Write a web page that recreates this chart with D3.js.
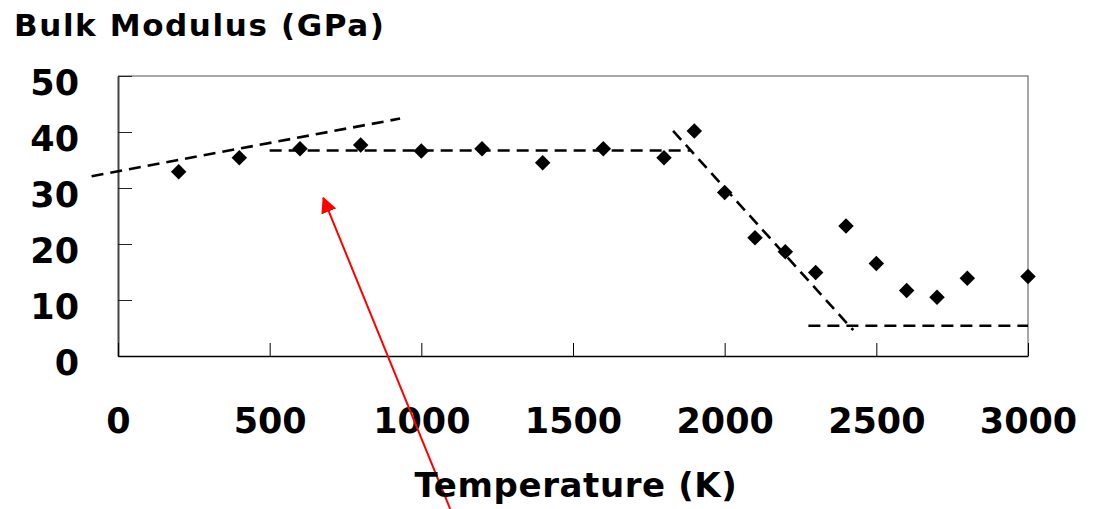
<!DOCTYPE html>
<html>
<head>
<meta charset="utf-8">
<script src="https://cdn.jsdelivr.net/npm/d3@7"></script>
<style>
  body { margin: 0; background: #fff; }
  svg { display: block; }
  text { font-family: "DejaVu Sans", sans-serif; font-weight: bold; fill: #000; }
</style>
</head>
<body>
<svg id="chart"></svg>
<script>
// measured bulk modulus vs temperature
var temps   = [200, 400, 600, 800, 1000, 1200, 1400, 1600, 1800, 1900, 2000, 2100, 2200, 2300, 2400, 2500, 2600, 2700, 2800, 3000];
var modulus = [32.9, 35.4, 37.0, 37.7, 36.6, 37.0, 34.5, 37.0, 35.4, 40.2, 29.2, 21.1, 18.6, 14.9, 23.2, 16.5, 11.7, 10.5, 13.9, 14.2];

// hand-drawn trend lines (start / end in data units)
var trendX = [[-87, 930], [500, 1890], [1830, 2424], [2276, 3000]];
var trendY = [[32.1, 42.4], [36.7, 36.7], [40.2, 4.6], [5.4, 5.4]];

// red annotation arrow: tail -> tip
var arrowX = [1095, 677];
var arrowY = [-27.3, 28.2];

var xTicks = [0, 500, 1000, 1500, 2000, 2500, 3000];
var yTicks = [0, 10, 20, 30, 40, 50];

var W = 1094, H = 509,
	margin = { left: 118, top: 76, right: 66, bottom: 153 },
	w = W - margin.left - margin.right,
	h = H - margin.top - margin.bottom;

var svg = d3.select('#chart')
		.attr('width', W)
		.attr('height', H);

var x = d3.scaleLinear().domain([0, 3000]).range([0, w]),
	y = d3.scaleLinear().domain([0, 50]).range([h, 0]);

var g = svg.append('g')
		.attr('transform', 'translate(' + margin.left + ',' + margin.top + ')');

// frame: top and right in grey
g.append('path')
	.attr('d', 'M0,' + y(50) + 'H' + x(3000) + 'V' + y(0))
	.attr('fill', 'none')
	.attr('stroke', '#8a8a8a')
	.attr('stroke-width', 1.5);

// y axis
var yAxis = g.append('g')
		.call(d3.axisLeft(y).tickValues(yTicks).tickSizeInner(-14).tickSizeOuter(0).tickPadding(39));
yAxis.select('.domain').attr('stroke', '#444').attr('stroke-width', 2);
yAxis.selectAll('.tick line').attr('stroke', '#222').attr('stroke-width', 1);
yAxis.selectAll('.tick text')
	.attr('dy', '0.52em')
	.style('font-size', '35px')
	.style('font-family', '"DejaVu Sans", sans-serif')
	.style('font-weight', 'bold');

// x axis
var xAxis = g.append('g')
		.attr('transform', 'translate(0,' + h + ')')
		.call(d3.axisBottom(x).tickValues(xTicks).tickFormat(d3.format('d')).tickSizeInner(-13).tickSizeOuter(0));
xAxis.select('.domain').attr('stroke', '#000').attr('stroke-width', 1.5);
xAxis.selectAll('.tick line').attr('stroke', '#000').attr('stroke-width', 1);
xAxis.selectAll('.tick text')
	.attr('y', 77)
	.attr('dy', 0)
	.style('font-size', '35px')
	.style('font-family', '"DejaVu Sans", sans-serif')
	.style('font-weight', 'bold');

// dashed trend lines
var line = d3.line()
		.x(function (d) { return x(d[0]); })
		.y(function (d) { return y(d[1]); });

g.selectAll('path.trend')
	.data(trendX.map(function (xs, i) {
		return [[xs[0], trendY[i][0]], [xs[1], trendY[i][1]]];
	}))
	.enter()
	.append('path')
	.attr('class', 'trend')
	.attr('d', line)
	.attr('fill', 'none')
	.attr('stroke', '#000')
	.attr('stroke-width', 2.6)
	.attr('stroke-dasharray', '12,7');

// diamond markers
g.selectAll('path.pt')
	.data(temps)
	.enter()
	.append('path')
	.attr('class', 'pt')
	.attr('d', d3.symbol().type(d3.symbolSquare).size(120))
	.attr('transform', function (d, i) {
		return 'translate(' + x(d) + ',' + y(modulus[i]) + ') rotate(45)';
	})
	.attr('fill', '#000');

// titles
svg.append('text')
	.attr('x', 14)
	.attr('y', 36)
	.style('font-size', '31px')
	.style('letter-spacing', '1.6px')
	.text('Bulk Modulus (GPa)');

svg.append('text')
	.attr('x', 576)
	.attr('y', 497)
	.attr('text-anchor', 'middle')
	.style('font-size', '34px')
	.style('letter-spacing', '0.6px')
	.text('Temperature (K)');

// red arrow
svg.append('defs').append('marker')
	.attr('id', 'head')
	.attr('viewBox', '0 0 10 10')
	.attr('refX', 9)
	.attr('refY', 5)
	.attr('markerWidth', 8)
	.attr('markerHeight', 8)
	.attr('markerUnits', 'strokeWidth')
	.attr('orient', 'auto')
	.append('path')
	.attr('d', 'M0,0L10,5L0,10Z')
	.attr('fill', '#ff0000');

g.append('path')
	.attr('d', line([[arrowX[0], arrowY[0]], [arrowX[1], arrowY[1]]]))
	.attr('stroke', '#ff0000')
	.attr('stroke-width', 2)
	.attr('fill', 'none')
	.attr('marker-end', 'url(#head)');
</script>
</body>
</html>
